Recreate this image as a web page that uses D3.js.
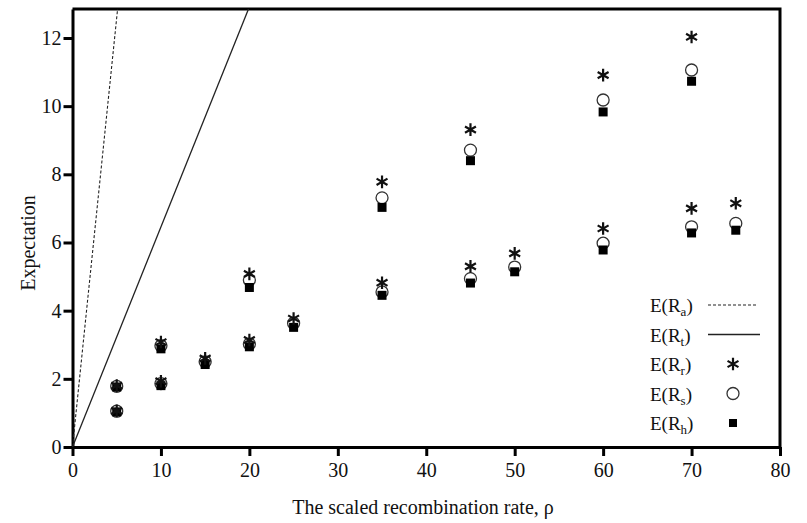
<!DOCTYPE html>
<html>
<head>
<meta charset="utf-8">
<title>Expectation vs rho</title>
<style>
body { margin: 0; background: #fff; }
text { font-family: "Liberation Serif", "DejaVu Serif", serif; fill: #111; }
.axis path, .axis line { stroke: #000; stroke-width: 3px; }
</style>
</head>
<body>
<svg width="807" height="523"></svg>
<script src="https://d3js.org/d3.v7.min.js"></script>
<script>
// upper group of points
var rhoA = [5, 10, 20, 35, 45, 60, 70];
var rrA  = [1.80, 3.08, 5.08, 7.78, 9.31, 10.91, 12.03];
var rsA  = [1.78, 2.97, 4.90, 7.31, 8.71, 10.18, 11.06];
var rhA  = [1.76, 2.88, 4.68, 7.03, 8.40, 9.83, 10.73];

// lower group of points
var rhoB = [5, 10, 15, 20, 25, 35, 45, 50, 60, 70, 75];
var rrB  = [1.06, 1.93, 2.60, 3.14, 3.77, 4.82, 5.30, 5.68, 6.41, 7.00, 7.15];
var rsB  = [1.05, 1.86, 2.50, 3.02, 3.63, 4.55, 4.94, 5.28, 5.98, 6.46, 6.56];
var rhB  = [1.03, 1.80, 2.42, 2.94, 3.51, 4.45, 4.81, 5.14, 5.78, 6.28, 6.36];

// E(Ra) and E(Rt) lines (end points)
var raX = [0, 5.1],  raY = [0, 12.85];
var rtX = [0, 19.9], rtY = [0, 12.85];

var xTicks = [0, 10, 20, 30, 40, 50, 60, 70, 80];
var yTicks = [0, 2, 4, 6, 8, 10, 12];
var legendSubs = ["a", "t", "r", "s", "h"];

var svg = d3.select("svg");
var mLeft = 72.5, mRight = 780, mTop = 9, mBottom = 447;

var x = d3.scaleLinear().domain([0, 80]).range([mLeft, mRight]);
var y = d3.scaleLinear().domain([0, 12.85]).range([mBottom, mTop]);

svg.append("defs").append("clipPath").attr("id", "clip")
  .append("rect").attr("x", mLeft).attr("y", mTop)
  .attr("width", mRight - mLeft).attr("height", mBottom - mTop);

// frame (top and right)
svg.append("path")
  .attr("d", "M" + mLeft + "," + mTop + "H" + mRight + "V" + mBottom)
  .attr("fill", "none").attr("stroke", "#000").attr("stroke-width", 3);

var xAxis = svg.append("g").attr("class", "axis")
  .attr("transform", "translate(0," + mBottom + ")")
  .call(d3.axisBottom(x).tickValues(xTicks).tickSize(9).tickSizeOuter(0));
xAxis.selectAll("text").attr("font-size", 20).attr("dy", "0.9em").attr("fill", "#111");

var yAxis = svg.append("g").attr("class", "axis")
  .attr("transform", "translate(" + mLeft + ",0)")
  .call(d3.axisLeft(y).tickValues(yTicks).tickSize(9).tickSizeOuter(0));
yAxis.selectAll("text").attr("font-size", 20).attr("x", -11).attr("fill", "#111");

svg.append("text")
  .attr("x", 423).attr("y", 514)
  .attr("text-anchor", "middle").attr("font-size", 20)
  .text("The scaled recombination rate, ρ");

svg.append("text")
  .attr("transform", "translate(35," + 243 + ") rotate(-90)")
  .attr("text-anchor", "middle").attr("font-size", 20)
  .text("Expectation");

var plot = svg.append("g").attr("clip-path", "url(#clip)");
var line = d3.line().x(function(d) { return x(d[0]); }).y(function(d) { return y(d[1]); });

plot.append("path").datum(d3.zip(raX, raY)).attr("d", line)
  .attr("fill", "none").attr("stroke", "#222").attr("stroke-width", 1.1)
  .attr("stroke-dasharray", "3,2");
plot.append("path").datum(d3.zip(rtX, rtY)).attr("d", line)
  .attr("fill", "none").attr("stroke", "#222").attr("stroke-width", 1.3);

var circles = d3.zip(rhoA, rsA).concat(d3.zip(rhoB, rsB));
var squares = d3.zip(rhoA, rhA).concat(d3.zip(rhoB, rhB));
var stars = d3.zip(rhoA, rrA).concat(d3.zip(rhoB, rrB));

var star = d3.symbol().type(d3.symbolAsterisk).size(112);

plot.selectAll(".cir").data(circles).enter().append("circle")
  .attr("cx", function(d) { return x(d[0]); })
  .attr("cy", function(d) { return y(d[1]); })
  .attr("r", 6).attr("fill", "#fff").attr("stroke", "#333").attr("stroke-width", 1.3);

plot.selectAll(".sq").data(squares).enter().append("rect")
  .attr("x", function(d) { return x(d[0]) - 4.5; })
  .attr("y", function(d) { return y(d[1]) - 4.5; })
  .attr("width", 9).attr("height", 9).attr("fill", "#000");

plot.selectAll(".st").data(stars).enter().append("path")
  .attr("transform", function(d) { return "translate(" + x(d[0]) + "," + y(d[1]) + ")"; })
  .attr("d", star).attr("fill", "none").attr("stroke", "#111").attr("stroke-width", 2.2);

// legend
var leg = svg.append("g").attr("transform", "translate(650,305)");
var rowH = 29.5;
legendSubs.forEach(function(s, i) {
  var t = leg.append("text").attr("x", 0).attr("y", i * rowH + 7).attr("font-size", 19);
  t.append("tspan").text("E(R");
  t.append("tspan").attr("font-size", 13).attr("dy", 4).text(s);
  t.append("tspan").attr("dy", -4).text(")");
});
leg.append("line").attr("x1", 58).attr("x2", 107).attr("y1", 0).attr("y2", 0)
  .attr("stroke", "#222").attr("stroke-width", 1.1).attr("stroke-dasharray", "3,2");
leg.append("line").attr("x1", 58).attr("x2", 110).attr("y1", rowH).attr("y2", rowH)
  .attr("stroke", "#222").attr("stroke-width", 1.3);
leg.append("path").attr("transform", "translate(83," + (2 * rowH) + ")")
  .attr("d", star).attr("fill", "none").attr("stroke", "#111").attr("stroke-width", 2.2);
leg.append("circle").attr("cx", 83).attr("cy", 3 * rowH).attr("r", 6)
  .attr("fill", "#fff").attr("stroke", "#333").attr("stroke-width", 1.3);
leg.append("rect").attr("x", 79).attr("y", 4 * rowH - 4).attr("width", 8).attr("height", 8)
  .attr("fill", "#000");
</script>
</body>
</html>
